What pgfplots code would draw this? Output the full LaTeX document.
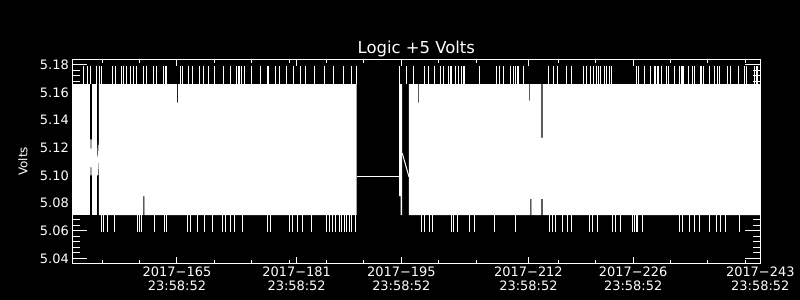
\documentclass[border=0pt]{standalone}
\usepackage{pgfplots}
\pgfplotsset{compat=1.18}
\usepackage{fontspec}
\setmainfont{DejaVu Sans}
\begin{document}
\begin{tikzpicture}
\fill[black] (0,0) rectangle (800bp,300bp);
\begin{axis}[
  at={(72.3bp,36.7bp)}, anchor=south west,
  scale only axis, width=688bp, height=204bp,
  xmin=151, xmax=243, ymin=5.0364, ymax=5.1839,
  axis line style={white, line width=1bp},
  tick style={white, line width=1bp},
  xtick style={/pgfplots/major tick length=6.5bp},
  minor x tick style={/pgfplots/minor tick length=3.5bp},
  ytick style={/pgfplots/major tick length=15bp},
  minor y tick style={/pgfplots/minor tick length=7.5bp},
  xtick={165,181,195,212,226,243},
  xticklabels={{2017−165\\23:58:52},{2017−181\\23:58:52},{2017−195\\23:58:52},{2017−212\\23:58:52},{2017−226\\23:58:52},{2017−243\\23:58:52}},
  minor xtick={155,160,170,175,180,185,190,200,205,216,221,231,236,241},
  ytick={5.04,5.06,5.08,5.10,5.12,5.14,5.16,5.18},
  yticklabels={5.04,5.06,5.08,5.10,5.12,5.14,5.16,5.18},
  minor y tick num=4,
  tick label style={font=\fontsize{13}{14.4}\selectfont, text=white},
  xticklabel style={align=center},
  ylabel={Volts},
  ylabel style={font=\fontsize{12}{14}\selectfont, text=white},
  ylabel shift=5.5bp,
  title={Logic +5 Volts},
  title style={font=\fontsize{16.5}{18}\selectfont, text=white, at={(0.5,1)}, anchor=base},
  clip=true,
]
% envelope of the densely oscillating readings (min/max band)
\addplot[fill=white, draw=none] coordinates {(151.00,5.0713)(151.00,5.166)(153.37,5.166)(153.37,5.0713)};
\addplot[fill=white, draw=none] coordinates {(153.63,5.0713)(153.63,5.166)(154.24,5.166)(154.24,5.0713)};
\addplot[fill=white, draw=none] coordinates {(154.57,5.0713)(154.57,5.166)(164.97,5.166)(164.97,5.1525)(165.11,5.1525)(165.11,5.166)(189.03,5.166)(189.03,5.0713)(160.65,5.0713)(160.65,5.085)(160.52,5.085)(160.52,5.0713)};
\addplot[fill=white, draw=none] coordinates {(194.69,5.085)(194.69,5.166)(195.12,5.166)(195.12,5.0713)(194.89,5.0713)(194.89,5.085)};
\addplot[fill=white, draw=none] coordinates {(196.02,5.0713)(196.02,5.166)(197.23,5.166)(197.23,5.1525)(197.36,5.1525)(197.36,5.166)(212.07,5.166)(212.07,5.154)(212.20,5.154)(212.20,5.166)(213.74,5.166)(213.74,5.127)(213.88,5.127)(213.88,5.166)(243,5.166)(243,5.0713)(213.88,5.0713)(213.88,5.083)(213.74,5.083)(213.74,5.0713)(212.40,5.0713)(212.40,5.083)(212.27,5.083)(212.27,5.0713)};
% single lines
\addplot[white, line width=1bp] coordinates {(189.03,5.099)(194.69,5.099)};
\addplot[white, line width=1bp] coordinates {(153.37,5.100)(153.50,5.126)(153.63,5.100)};
\addplot[white, line width=1bp] coordinates {(154.24,5.124)(154.40,5.100)(154.57,5.122)};
\addplot[white, line width=1bp] coordinates {(195.12,5.116)(196.02,5.099)};
% upward spikes
\addplot[draw=none, mark=none, error bars/.cd, y dir=plus, y explicit, error mark=none, error bar style={draw=white, solid, line width=1bp}] table[x=x, y=y, y error=e] {
x y e
152.56 5.166 0.013
153.01 5.166 0.013
153.50 5.166 0.013
154.26 5.166 0.013
154.61 5.166 0.013
154.93 5.166 0.013
156.40 5.166 0.013
156.71 5.166 0.013
157.61 5.166 0.013
157.91 5.166 0.013
158.27 5.166 0.013
158.72 5.166 0.013
159.16 5.166 0.013
159.52 5.166 0.013
160.49 5.166 0.013
160.86 5.166 0.013
161.83 5.166 0.013
162.29 5.166 0.013
163.26 5.166 0.013
163.40 5.166 0.013
163.53 5.166 0.013
165.50 5.166 0.013
165.76 5.166 0.013
166.51 5.166 0.013
167.10 5.166 0.013
167.98 5.166 0.013
168.52 5.166 0.013
169.19 5.166 0.013
170.08 5.166 0.013
171.19 5.166 0.013
172.09 5.166 0.013
173.02 5.166 0.013
173.16 5.166 0.013
173.29 5.166 0.013
173.42 5.166 0.013
173.56 5.166 0.013
174.09 5.166 0.013
174.99 5.166 0.013
176.10 5.166 0.013
177.04 5.166 0.013
177.17 5.166 0.013
177.30 5.166 0.013
178.11 5.166 0.013
178.77 5.166 0.013
179.67 5.166 0.013
180.55 5.166 0.013
181.45 5.166 0.013
182.25 5.166 0.013
183.45 5.166 0.013
184.79 5.166 0.013
185.90 5.166 0.013
187.24 5.166 0.013
188.36 5.166 0.013
188.94 5.166 0.013
194.82 5.166 0.013
195.72 5.166 0.013
196.60 5.166 0.013
198.03 5.166 0.013
198.60 5.166 0.013
199.50 5.166 0.013
200.17 5.166 0.013
200.61 5.166 0.013
201.37 5.166 0.013
201.51 5.166 0.013
201.64 5.166 0.013
202.18 5.166 0.013
202.62 5.166 0.013
203.07 5.166 0.013
203.29 5.166 0.013
203.51 5.166 0.013
205.42 5.166 0.013
207.75 5.166 0.013
208.19 5.166 0.013
208.63 5.166 0.013
209.53 5.166 0.013
209.97 5.166 0.013
210.33 5.166 0.013
210.47 5.166 0.013
210.60 5.166 0.013
211.31 5.166 0.013
214.65 5.166 0.013
215.32 5.166 0.013
215.85 5.166 0.013
217.11 5.166 0.013
217.78 5.166 0.013
219.33 5.166 0.013
219.79 5.166 0.013
220.23 5.166 0.013
220.67 5.166 0.013
221.16 5.166 0.013
221.30 5.166 0.013
221.43 5.166 0.013
221.67 5.166 0.013
222.10 5.166 0.013
222.23 5.166 0.013
222.37 5.166 0.013
222.90 5.166 0.013
223.13 5.166 0.013
226.38 5.166 0.013
226.51 5.166 0.013
226.65 5.166 0.013
227.58 5.166 0.013
228.34 5.166 0.013
228.79 5.166 0.013
229.01 5.166 0.013
229.19 5.166 0.013
229.32 5.166 0.013
229.45 5.166 0.013
229.81 5.166 0.013
230.39 5.166 0.013
230.70 5.166 0.013
231.46 5.166 0.013
232.26 5.166 0.013
232.40 5.166 0.013
232.53 5.166 0.013
232.70 5.166 0.013
233.37 5.166 0.013
233.91 5.166 0.013
234.17 5.166 0.013
234.94 5.166 0.013
235.20 5.166 0.013
235.34 5.166 0.013
236.14 5.166 0.013
236.81 5.166 0.013
237.25 5.166 0.013
237.48 5.166 0.013
238.59 5.166 0.013
238.95 5.166 0.013
240.06 5.166 0.013
240.95 5.166 0.013
241.09 5.166 0.013
242.29 5.166 0.013
242.43 5.166 0.013
242.56 5.166 0.013
242.69 5.166 0.013
};
% downward spikes
\addplot[draw=none, mark=none, error bars/.cd, y dir=minus, y explicit, error mark=none, error bar style={draw=white, solid, line width=1bp}] table[x=x, y=y, y error=e] {
x y e
154.84 5.0713 0.0125
155.15 5.0713 0.0125
155.73 5.0713 0.0125
156.62 5.0713 0.0125
159.75 5.0713 0.0125
159.96 5.0713 0.0125
160.19 5.0713 0.0125
161.97 5.0713 0.0125
163.30 5.0713 0.0125
163.53 5.0713 0.0125
166.43 5.0713 0.0125
166.87 5.0713 0.0125
167.77 5.0713 0.0125
168.65 5.0713 0.0125
169.77 5.0713 0.0125
171.11 5.0713 0.0125
171.55 5.0713 0.0125
172.22 5.0713 0.0125
172.66 5.0713 0.0125
173.79 5.0713 0.0125
177.13 5.0713 0.0125
177.44 5.0713 0.0125
180.02 5.0713 0.0125
180.47 5.0713 0.0125
181.14 5.0713 0.0125
181.81 5.0713 0.0125
182.92 5.0713 0.0125
184.93 5.0713 0.0125
185.37 5.0713 0.0125
185.82 5.0713 0.0125
186.26 5.0713 0.0125
186.70 5.0713 0.0125
187.06 5.0713 0.0125
187.37 5.0713 0.0125
187.69 5.0713 0.0125
188.04 5.0713 0.0125
188.40 5.0713 0.0125
188.84 5.0713 0.0125
197.63 5.0713 0.0125
198.07 5.0713 0.0125
198.74 5.0713 0.0125
199.19 5.0713 0.0125
201.64 5.0713 0.0125
201.95 5.0713 0.0125
202.54 5.0713 0.0125
204.09 5.0713 0.0125
204.76 5.0713 0.0125
207.43 5.0713 0.0125
210.33 5.0713 0.0125
214.78 5.0713 0.0125
215.24 5.0713 0.0125
215.68 5.0713 0.0125
216.58 5.0713 0.0125
217.25 5.0713 0.0125
217.69 5.0713 0.0125
220.13 5.0713 0.0125
220.59 5.0713 0.0125
221.26 5.0713 0.0125
223.26 5.0713 0.0125
223.70 5.0713 0.0125
224.37 5.0713 0.0125
225.94 5.0713 0.0125
226.15 5.0713 0.0125
226.38 5.0713 0.0125
226.61 5.0713 0.0125
227.27 5.0713 0.0125
232.17 5.0713 0.0125
232.62 5.0713 0.0125
233.51 5.0713 0.0125
234.17 5.0713 0.0125
234.84 5.0713 0.0125
236.18 5.0713 0.0125
237.08 5.0713 0.0125
237.74 5.0713 0.0125
238.41 5.0713 0.0125
240.19 5.0713 0.0125
};
\end{axis}
\pgfresetboundingbox
\path[use as bounding box] (0,0) rectangle (800bp,300bp);
\end{tikzpicture}
\end{document}
